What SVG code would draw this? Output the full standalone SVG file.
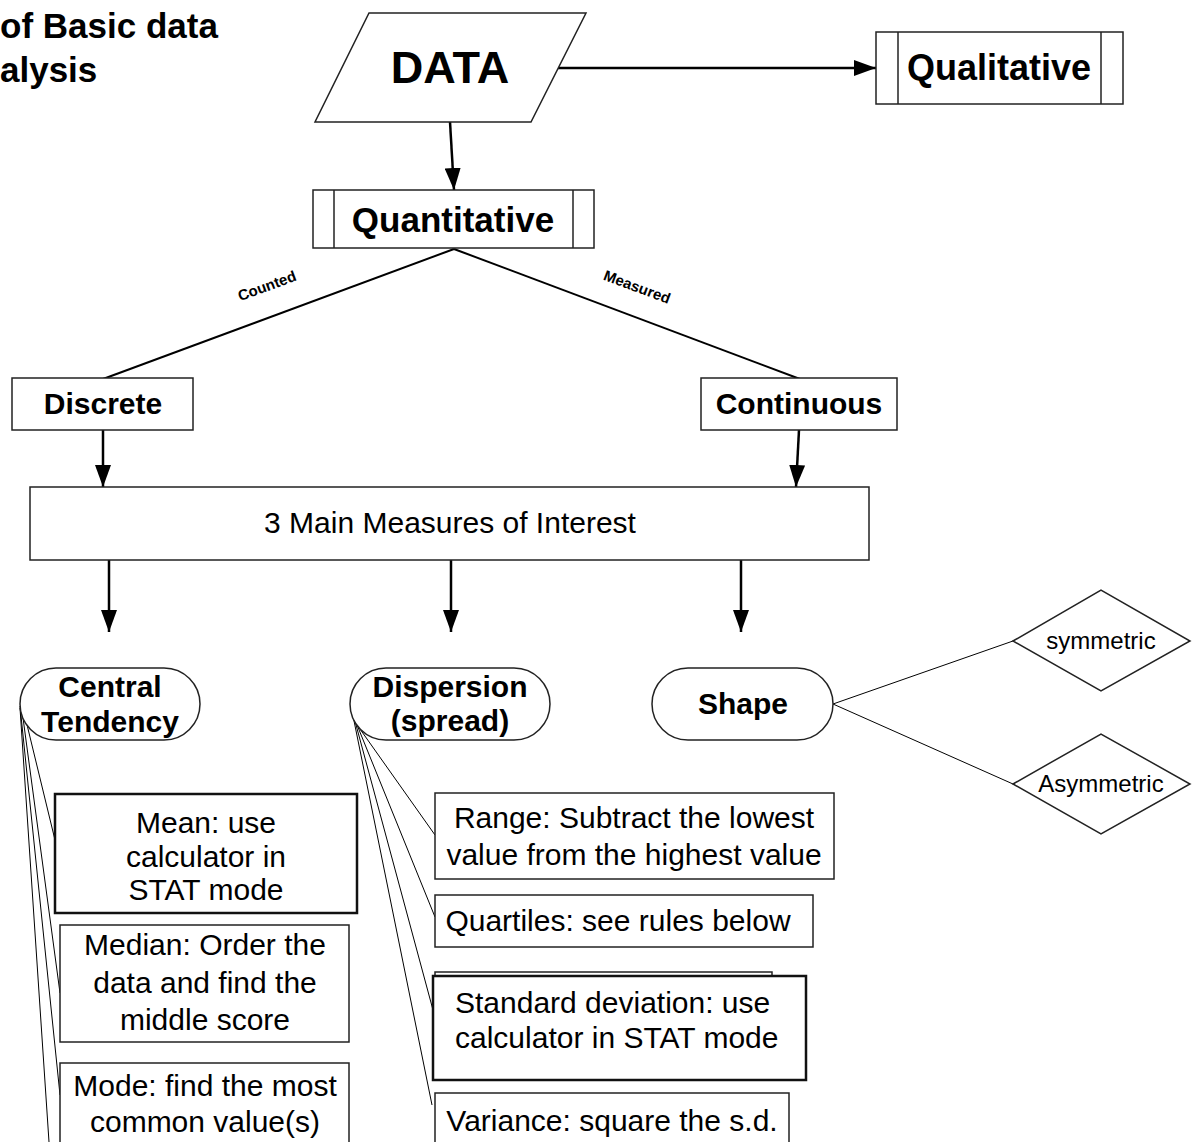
<svg xmlns="http://www.w3.org/2000/svg" width="1194" height="1142" viewBox="0 0 1194 1142">
<defs>
<marker id="arr" viewBox="0 0 22 16" refX="22" refY="8" markerWidth="22" markerHeight="16" markerUnits="userSpaceOnUse" orient="auto">
<path d="M0,0 L22,8 L0,16 z" fill="#000"/>
</marker>
<style>
.t{font-family:"Liberation Sans",Arial,sans-serif;fill:#000}
.b{font-weight:bold}
.box{fill:#fff;stroke:#222;stroke-width:1.5}
.thk{fill:#fff;stroke:#111;stroke-width:2.5}
.arrow{stroke:#000;stroke-width:2.5;fill:none;marker-end:url(#arr)}
.edge{stroke:#000;stroke-width:2;fill:none}
.fan{stroke:#000;stroke-width:1;fill:none}
</style>
</defs>
<rect width="1194" height="1142" fill="#fff"/>

<g id="title">
<text class="t b" x="0" y="38" font-size="35">of Basic data</text>
<text class="t b" x="0" y="82" font-size="35">alysis</text>
</g>

<g id="connectors">
<line class="arrow" x1="558" y1="68" x2="876" y2="68"/>
<line class="arrow" x1="450" y1="122" x2="454" y2="190"/>
<line class="edge" x1="454" y1="249" x2="103" y2="379"/>
<line class="edge" x1="454" y1="249" x2="800" y2="379"/>
<text class="t b" font-size="15" x="267" y="291" text-anchor="middle" transform="rotate(-20.3 267 286)">Counted</text>
<text class="t b" font-size="15" x="637" y="292" text-anchor="middle" transform="rotate(20.5 637 287)">Measured</text>
<line class="arrow" x1="103" y1="430" x2="103" y2="487"/>
<line class="arrow" x1="799" y1="430" x2="796" y2="487"/>
<line class="arrow" x1="109" y1="560" x2="109" y2="632"/>
<line class="arrow" x1="451" y1="560" x2="451" y2="632"/>
<line class="arrow" x1="741" y1="560" x2="741" y2="632"/>
<line class="fan" x1="833" y1="704" x2="1013" y2="641"/>
<line class="fan" x1="833" y1="704" x2="1013" y2="784"/>
<line class="fan" x1="21" y1="700" x2="55" y2="840"/>
<line class="fan" x1="21" y1="703" x2="60" y2="993"/>
<line class="fan" x1="20" y1="706" x2="60" y2="1095"/>
<line class="fan" x1="20" y1="708" x2="49" y2="1142"/>
<line class="fan" x1="355" y1="722" x2="435" y2="835"/>
<line class="fan" x1="353" y1="715" x2="435" y2="917"/>
<line class="fan" x1="352" y1="710" x2="433" y2="1010"/>
<line class="fan" x1="351" y1="706" x2="432" y2="1105"/>
</g>

<g id="data">
<polygon class="box" points="369,13 586,13 531,122 315,122"/>
<text class="t b" x="450" y="83" font-size="45" text-anchor="middle">DATA</text>
</g>

<g id="qualitative">
<rect class="box" x="876" y="32" width="247" height="72"/>
<line class="box" x1="898" y1="32" x2="898" y2="104"/>
<line class="box" x1="1101" y1="32" x2="1101" y2="104"/>
<text class="t b" x="999" y="80" font-size="36" text-anchor="middle">Qualitative</text>
</g>

<g id="quantitative">
<rect class="box" x="313" y="190" width="281" height="58"/>
<line class="box" x1="334" y1="190" x2="334" y2="248"/>
<line class="box" x1="573" y1="190" x2="573" y2="248"/>
<text class="t b" x="453" y="232" font-size="35" text-anchor="middle">Quantitative</text>
</g>

<g id="discrete">
<rect class="box" x="12" y="378" width="181" height="52"/>
<text class="t b" x="103" y="414" font-size="30" text-anchor="middle">Discrete</text>
</g>

<g id="continuous">
<rect class="box" x="701" y="378" width="196" height="52"/>
<text class="t b" x="799" y="414" font-size="30" text-anchor="middle">Continuous</text>
</g>

<g id="measures">
<rect class="box" x="30" y="487" width="839" height="73"/>
<text class="t" x="450" y="533" font-size="30" text-anchor="middle">3 Main Measures of Interest</text>
</g>

<g id="central">
<rect class="box" x="20" y="668" width="180" height="72" rx="36" ry="36"/>
<text class="t b" x="110" y="697" font-size="30" text-anchor="middle">Central</text>
<text class="t b" x="110" y="732" font-size="30" text-anchor="middle">Tendency</text>
</g>

<g id="dispersion">
<rect class="box" x="350" y="668" width="200" height="72" rx="36" ry="36"/>
<text class="t b" x="450" y="697" font-size="30" text-anchor="middle">Dispersion</text>
<text class="t b" x="450" y="731" font-size="30" text-anchor="middle">(spread)</text>
</g>

<g id="shape">
<rect class="box" x="652" y="668" width="181" height="72" rx="36" ry="36"/>
<text class="t b" x="743" y="714" font-size="30" text-anchor="middle">Shape</text>
</g>

<g id="symmetric">
<polygon class="box" points="1013,641 1101,590 1190,641 1101,691"/>
<text class="t" x="1101" y="649" font-size="24" text-anchor="middle">symmetric</text>
</g>

<g id="asymmetric">
<polygon class="box" points="1013,784 1101,734 1190,784 1101,834"/>
<text class="t" x="1101" y="792" font-size="24" text-anchor="middle">Asymmetric</text>
</g>

<g id="mean">
<rect class="thk" x="55" y="794" width="302" height="119"/>
<text class="t" x="206" y="833" font-size="30" text-anchor="middle">Mean: use</text>
<text class="t" x="206" y="867" font-size="30" text-anchor="middle">calculator in</text>
<text class="t" x="206" y="900" font-size="30" text-anchor="middle">STAT mode</text>
</g>

<g id="median">
<rect class="box" x="60" y="925" width="289" height="117"/>
<text class="t" x="205" y="955" font-size="30" text-anchor="middle">Median: Order the</text>
<text class="t" x="205" y="993" font-size="30" text-anchor="middle">data and find the</text>
<text class="t" x="205" y="1030" font-size="30" text-anchor="middle">middle score</text>
</g>

<g id="mode">
<rect class="box" x="60" y="1063" width="289" height="100"/>
<text class="t" x="205" y="1096" font-size="30" text-anchor="middle">Mode: find the most</text>
<text class="t" x="205" y="1132" font-size="30" text-anchor="middle">common value(s)</text>
</g>

<g id="range">
<rect class="box" x="435" y="793" width="399" height="86"/>
<text class="t" x="634" y="828" font-size="30" text-anchor="middle">Range: Subtract the lowest</text>
<text class="t" x="634" y="865" font-size="30" text-anchor="middle">value from the highest value</text>
</g>

<g id="quartiles">
<rect class="box" x="435" y="895" width="378" height="52"/>
<text class="t" x="618" y="931" font-size="30" text-anchor="middle">Quartiles: see rules below</text>
</g>

<g id="stddev">
<rect class="box" x="435" y="972" width="337" height="100"/>
<rect class="thk" x="433" y="976" width="373" height="104"/>
<text class="t" x="455" y="1013" font-size="30">Standard deviation: use</text>
<text class="t" x="455" y="1048" font-size="30">calculator in STAT mode</text>
</g>

<g id="variance">
<rect class="box" x="435" y="1093" width="354" height="80"/>
<text class="t" x="612" y="1131" font-size="30" text-anchor="middle">Variance: square the s.d.</text>
</g>
</svg>
